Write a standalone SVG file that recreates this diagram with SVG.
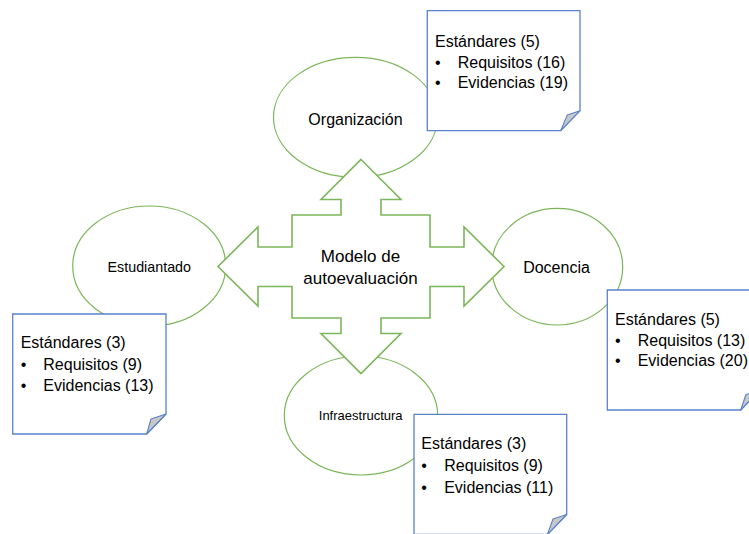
<svg xmlns="http://www.w3.org/2000/svg" width="749" height="534" viewBox="0 0 749 534">
<style>
.ell{fill:#fff;stroke:#7cb65a;stroke-width:1.2}
.arr{fill:#fff;stroke:#7cb65a;stroke-width:1.6;stroke-linejoin:miter}
.note{fill:#fff;stroke:#5a82cc;stroke-width:1.3}
.fold{fill:#c8c8c8;stroke:#5a82cc;stroke-width:1.1;stroke-linejoin:round}
text{font-family:"Liberation Sans",Arial,sans-serif;fill:#000}
.lbl{text-anchor:middle}
.nt{font-size:16px}
</style>
<rect width="749" height="534" fill="#fff"/>
<g id="organizacion">
<ellipse class="ell" cx="355.5" cy="117.3" rx="82" ry="60"/>
<text class="lbl" x="355.5" y="124.5" font-size="16">Organización</text>
</g>
<g id="estudiantado">
<ellipse class="ell" cx="149.2" cy="266" rx="76.5" ry="60"/>
<text class="lbl" x="149.3" y="272" font-size="14.3">Estudiantado</text>
</g>
<g id="docencia">
<ellipse class="ell" cx="557.2" cy="266.7" rx="65.5" ry="58.3"/>
<text class="lbl" x="556.5" y="273" font-size="16">Docencia</text>
</g>
<g id="infraestructura">
<ellipse class="ell" cx="361" cy="415.5" rx="76.7" ry="59.5"/>
<text class="lbl" x="360.7" y="420" font-size="13">Infraestructura</text>
</g>
<g id="connectors">
<path class="arr" d="M361,159.5 L401,199.5 L381,199.5 L381,215 L430,215 L430,247 L464,247 L464,227 L504,266.5 L464,306 L464,286.5 L430,286.5 L430,318 L381,318 L381,333.5 L401,333.5 L361,373.5 L321,333.5 L341,333.5 L341,318 L292,318 L292,286.5 L258,286.5 L258,306 L218,266.5 L258,227 L258,247 L292,247 L292,215 L341,215 L341,199.5 L321,199.5 Z"/>
</g>
<g id="modelo">
<text class="lbl" x="360.5" y="262.3" font-size="17">Modelo de</text>
<text class="lbl" x="360.5" y="284" font-size="17">autoevaluación</text>
</g>
<g id="nota-organizacion">
<path class="note" d="M427.3,10.7 H580 V110.7 L560.7,130.7 H427.3 Z"/>
<path class="fold" d="M560.7,130.7 L567.3,115 L580,110.7 Z"/>
<text class="nt" x="435" y="46.5">Estándares (5)</text>
<text class="nt" x="435" y="67.5">•</text>
<text class="nt" x="457.7" y="67.5">Requisitos (16)</text>
<text class="nt" x="435" y="88.3">•</text>
<text class="nt" x="457.7" y="88.3">Evidencias (19)</text>
</g>
<g id="nota-estudiantado">
<path class="note" d="M12.7,314 H166 V414 L146.7,434 H12.7 Z"/>
<path class="fold" d="M146.7,434 L151,419 L166,414 Z"/>
<text class="nt" x="20.7" y="348">Estándares (3)</text>
<text class="nt" x="20.7" y="369.5">•</text>
<text class="nt" x="43.3" y="369.5">Requisitos (9)</text>
<text class="nt" x="20.7" y="390.5">•</text>
<text class="nt" x="43.3" y="390.5">Evidencias (13)</text>
</g>
<g id="nota-docencia">
<path class="note" d="M607.3,290 H760 V390 L740.7,410 H607.3 Z"/>
<path class="fold" d="M740.7,410 L746,394.5 L760,390 Z"/>
<text class="nt" x="615" y="325">Estándares (5)</text>
<text class="nt" x="615" y="345.7">•</text>
<text class="nt" x="637.7" y="345.7">Requisitos (13)</text>
<text class="nt" x="615" y="366.3">•</text>
<text class="nt" x="637.7" y="366.3">Evidencias (20)</text>
</g>
<g id="nota-infraestructura">
<path class="note" d="M414,414.3 H566.7 V514.5 L547.4,534.5 H414 Z"/>
<path class="fold" d="M547.4,534.5 L553,519 L566.7,514.5 Z"/>
<text class="nt" x="421.3" y="449.3">Estándares (3)</text>
<text class="nt" x="421.3" y="471.3">•</text>
<text class="nt" x="444.2" y="471.3">Requisitos (9)</text>
<text class="nt" x="421.3" y="493">•</text>
<text class="nt" x="444.2" y="493">Evidencias (11)</text>
</g>
</svg>
